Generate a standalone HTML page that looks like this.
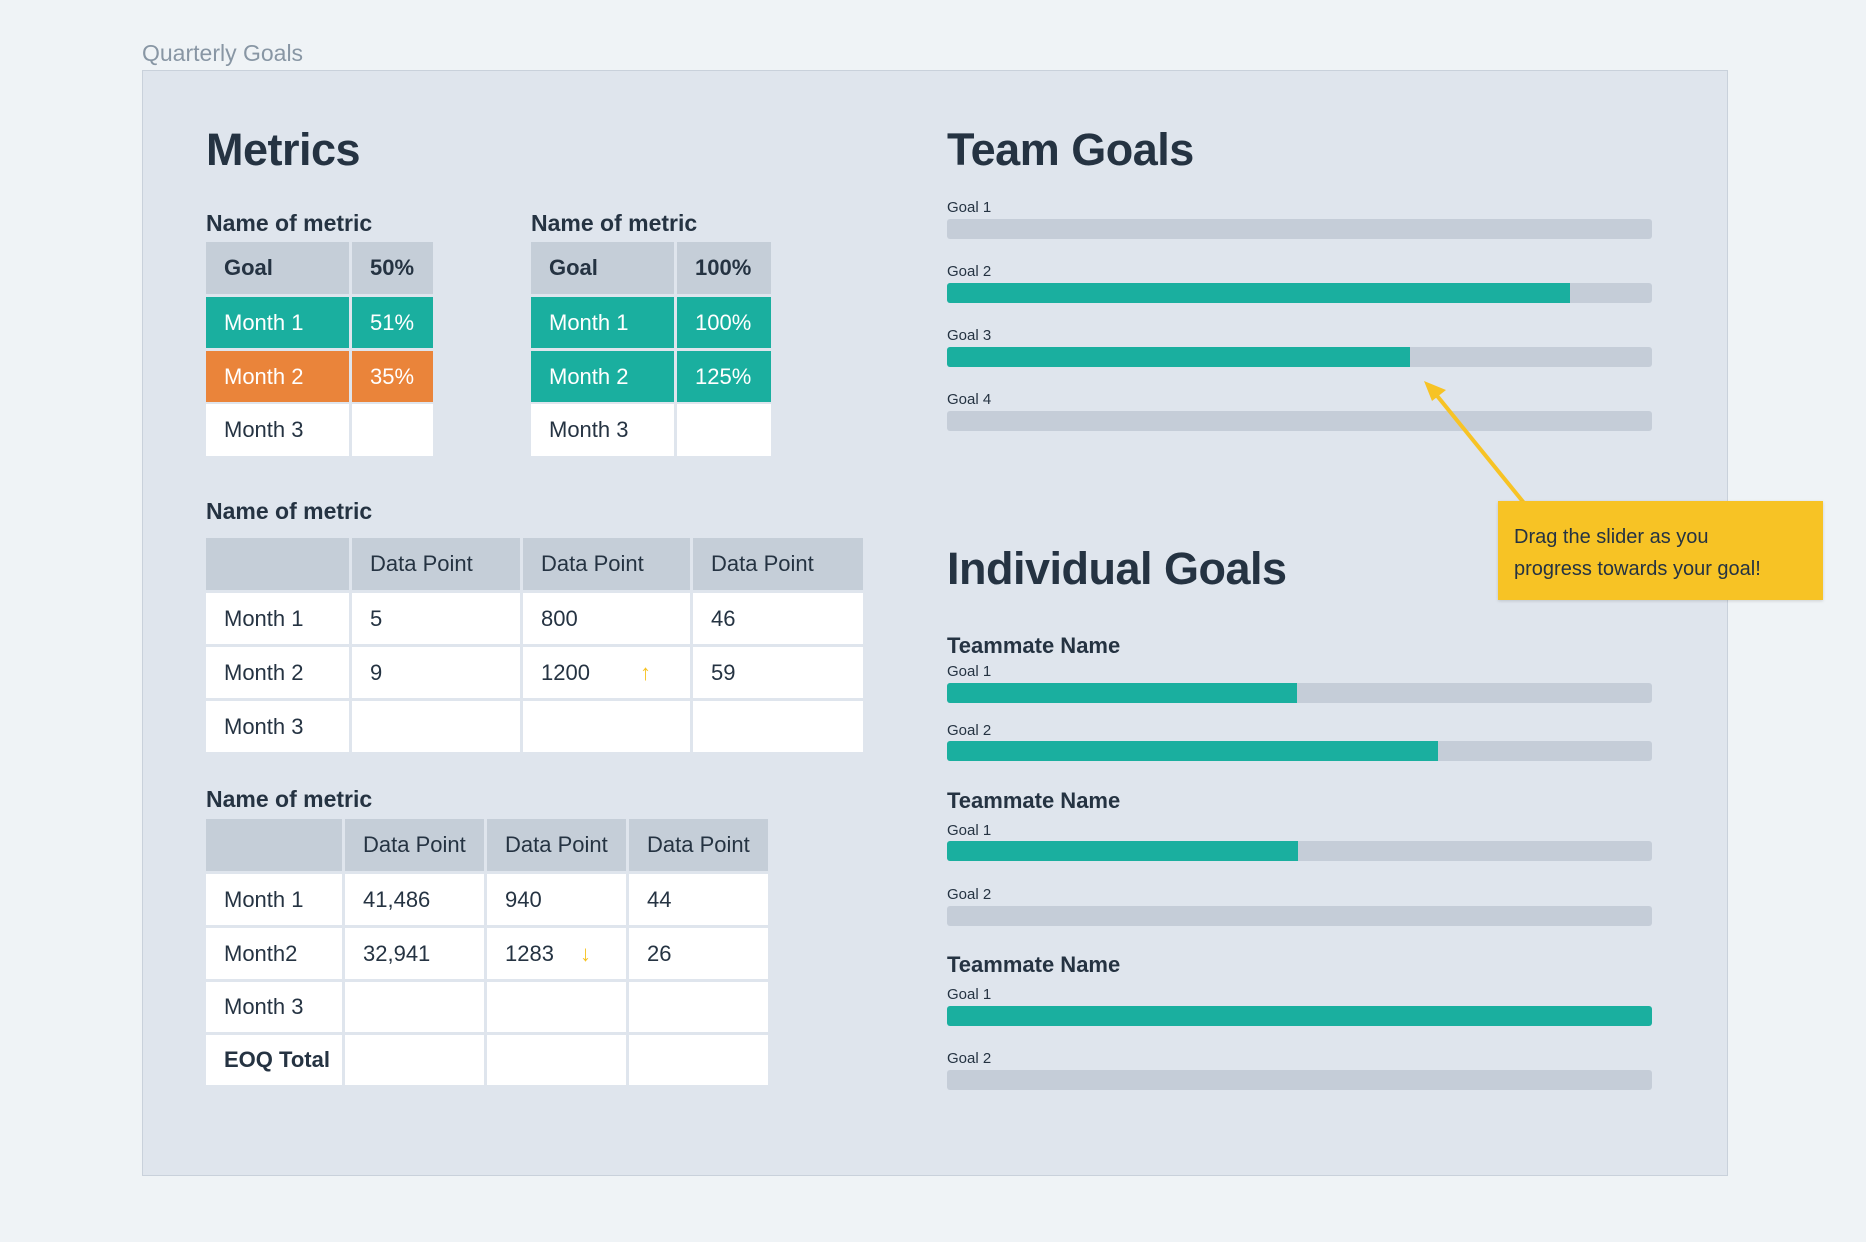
<!DOCTYPE html>
<html><head><meta charset="utf-8"><style>
*{margin:0;padding:0;box-sizing:border-box}
body{width:1866px;height:1242px;background:#eff3f6;font-family:"Liberation Sans",sans-serif;color:#253342;position:relative;overflow:hidden}
.a{position:absolute}
.panel{left:142px;top:70px;width:1586px;height:1106px;background:#dfe5ed;border:1px solid #c9d1db}
.h1{font-size:45px;font-weight:bold;letter-spacing:-0.5px}
.h3{font-size:23px;font-weight:bold}
.c{position:absolute;font-size:22px;display:flex;align-items:center;padding-left:18px;background:#fff;white-space:nowrap}
.g{background:#c5ced8}
.t{background:#1aaf9f;color:#fff}
.o{background:#ea843a;color:#fff}
.b{font-weight:bold}
.lbl{position:absolute;font-size:15px}
.bar{position:absolute;left:947px;width:705px;height:20px;background:#c5cdd8;border-radius:3px;overflow:hidden}
.bar i{display:block;height:100%;background:#1aaf9f}
</style></head><body>
<div class="a" style="left:142px;top:40px;font-size:23px;color:#8896a4">Quarterly Goals</div>
<div class="a panel"></div>

<div class="a h1" style="left:206px;top:124px">Metrics</div>
<div class="a h1" style="left:947px;top:124px">Team Goals</div>
<div class="a h1" style="left:947px;top:543px">Individual Goals</div>

<div class="a h3" style="left:206px;top:210px">Name of metric</div>
<div class="a h3" style="left:531px;top:210px">Name of metric</div>
<div class="a h3" style="left:206px;top:498px">Name of metric</div>
<div class="a h3" style="left:206px;top:786px">Name of metric</div>

<!-- table 1 -->
<div class="c g b" style="left:206px;top:242px;width:143px;height:52px">Goal</div>
<div class="c g b" style="left:352px;top:242px;width:81px;height:52px">50%</div>
<div class="c t" style="left:206px;top:297px;width:143px;height:51px">Month 1</div>
<div class="c t" style="left:352px;top:297px;width:81px;height:51px">51%</div>
<div class="c o" style="left:206px;top:351px;width:143px;height:51px">Month 2</div>
<div class="c o" style="left:352px;top:351px;width:81px;height:51px">35%</div>
<div class="c" style="left:206px;top:404px;width:143px;height:52px">Month 3</div>
<div class="c" style="left:352px;top:404px;width:81px;height:52px"></div>

<!-- table 2 -->
<div class="c g b" style="left:531px;top:242px;width:143px;height:52px">Goal</div>
<div class="c g b" style="left:677px;top:242px;width:94px;height:52px">100%</div>
<div class="c t" style="left:531px;top:297px;width:143px;height:51px">Month 1</div>
<div class="c t" style="left:677px;top:297px;width:94px;height:51px">100%</div>
<div class="c t" style="left:531px;top:351px;width:143px;height:51px">Month 2</div>
<div class="c t" style="left:677px;top:351px;width:94px;height:51px">125%</div>
<div class="c" style="left:531px;top:404px;width:143px;height:52px">Month 3</div>
<div class="c" style="left:677px;top:404px;width:94px;height:52px"></div>

<!-- table 3 -->
<div class="c g" style="left:206px;top:538px;width:143px;height:52px"></div>
<div class="c g" style="left:352px;top:538px;width:168px;height:52px">Data Point</div>
<div class="c g" style="left:523px;top:538px;width:167px;height:52px">Data Point</div>
<div class="c g" style="left:693px;top:538px;width:170px;height:52px">Data Point</div>
<div class="c" style="left:206px;top:593px;width:143px;height:51px">Month 1</div>
<div class="c" style="left:352px;top:593px;width:168px;height:51px">5</div>
<div class="c" style="left:523px;top:593px;width:167px;height:51px">800</div>
<div class="c" style="left:693px;top:593px;width:170px;height:51px">46</div>
<div class="c" style="left:206px;top:647px;width:143px;height:51px">Month 2</div>
<div class="c" style="left:352px;top:647px;width:168px;height:51px">9</div>
<div class="c" style="left:523px;top:647px;width:167px;height:51px">1200<span style="color:#f7c325;margin-left:50px">↑</span></div>
<div class="c" style="left:693px;top:647px;width:170px;height:51px">59</div>
<div class="c" style="left:206px;top:701px;width:143px;height:51px">Month 3</div>
<div class="c" style="left:352px;top:701px;width:168px;height:51px"></div>
<div class="c" style="left:523px;top:701px;width:167px;height:51px"></div>
<div class="c" style="left:693px;top:701px;width:170px;height:51px"></div>

<!-- table 4 -->
<div class="c g" style="left:206px;top:819px;width:136px;height:52px"></div>
<div class="c g" style="left:345px;top:819px;width:139px;height:52px">Data Point</div>
<div class="c g" style="left:487px;top:819px;width:139px;height:52px">Data Point</div>
<div class="c g" style="left:629px;top:819px;width:139px;height:52px">Data Point</div>
<div class="c" style="left:206px;top:874px;width:136px;height:51px">Month 1</div>
<div class="c" style="left:345px;top:874px;width:139px;height:51px">41,486</div>
<div class="c" style="left:487px;top:874px;width:139px;height:51px">940</div>
<div class="c" style="left:629px;top:874px;width:139px;height:51px">44</div>
<div class="c" style="left:206px;top:928px;width:136px;height:51px">Month2</div>
<div class="c" style="left:345px;top:928px;width:139px;height:51px">32,941</div>
<div class="c" style="left:487px;top:928px;width:139px;height:51px">1283<span style="color:#f7c325;margin-left:26px">↓</span></div>
<div class="c" style="left:629px;top:928px;width:139px;height:51px">26</div>
<div class="c" style="left:206px;top:982px;width:136px;height:50px">Month 3</div>
<div class="c" style="left:345px;top:982px;width:139px;height:50px"></div>
<div class="c" style="left:487px;top:982px;width:139px;height:50px"></div>
<div class="c" style="left:629px;top:982px;width:139px;height:50px"></div>
<div class="c b" style="left:206px;top:1035px;width:136px;height:50px">EOQ Total</div>
<div class="c" style="left:345px;top:1035px;width:139px;height:50px"></div>
<div class="c" style="left:487px;top:1035px;width:139px;height:50px"></div>
<div class="c" style="left:629px;top:1035px;width:139px;height:50px"></div>

<!-- team goals -->
<div class="lbl" style="left:947px;top:199px">Goal 1</div>
<div class="bar" style="top:219px"></div>
<div class="lbl" style="left:947px;top:263px">Goal 2</div>
<div class="bar" style="top:283px"><i style="width:623px"></i></div>
<div class="lbl" style="left:947px;top:327px">Goal 3</div>
<div class="bar" style="top:347px"><i style="width:463px"></i></div>
<div class="lbl" style="left:947px;top:391px">Goal 4</div>
<div class="bar" style="top:411px"></div>

<!-- individual -->
<div class="a h3" style="left:947px;top:633px;font-size:22px">Teammate Name</div>
<div class="lbl" style="left:947px;top:663px">Goal 1</div>
<div class="bar" style="top:683px"><i style="width:350px"></i></div>
<div class="lbl" style="left:947px;top:722px">Goal 2</div>
<div class="bar" style="top:741px"><i style="width:491px"></i></div>

<div class="a h3" style="left:947px;top:788px;font-size:22px">Teammate Name</div>
<div class="lbl" style="left:947px;top:822px">Goal 1</div>
<div class="bar" style="top:841px"><i style="width:351px"></i></div>
<div class="lbl" style="left:947px;top:886px">Goal 2</div>
<div class="bar" style="top:906px"></div>

<div class="a h3" style="left:947px;top:952px;font-size:22px">Teammate Name</div>
<div class="lbl" style="left:947px;top:986px">Goal 1</div>
<div class="bar" style="top:1006px"><i style="width:705px"></i></div>
<div class="lbl" style="left:947px;top:1050px">Goal 2</div>
<div class="bar" style="top:1070px"></div>

<!-- callout -->
<svg class="a" style="left:0;top:0" width="1866" height="1242">
<line x1="1524" y1="503" x2="1434" y2="392" stroke="#f7c325" stroke-width="4"/>
<polygon points="1424,381 1446,390 1432,401" fill="#f7c325"/>
</svg>
<div class="a" style="left:1498px;top:501px;width:325px;height:99px;background:#f7c325;box-shadow:0 1px 3px rgba(0,0,0,0.15);padding:20px 0 0 16px;font-size:20px;line-height:32px;color:#253342">Drag the slider as you<br>progress towards your goal!</div>
</body></html>
